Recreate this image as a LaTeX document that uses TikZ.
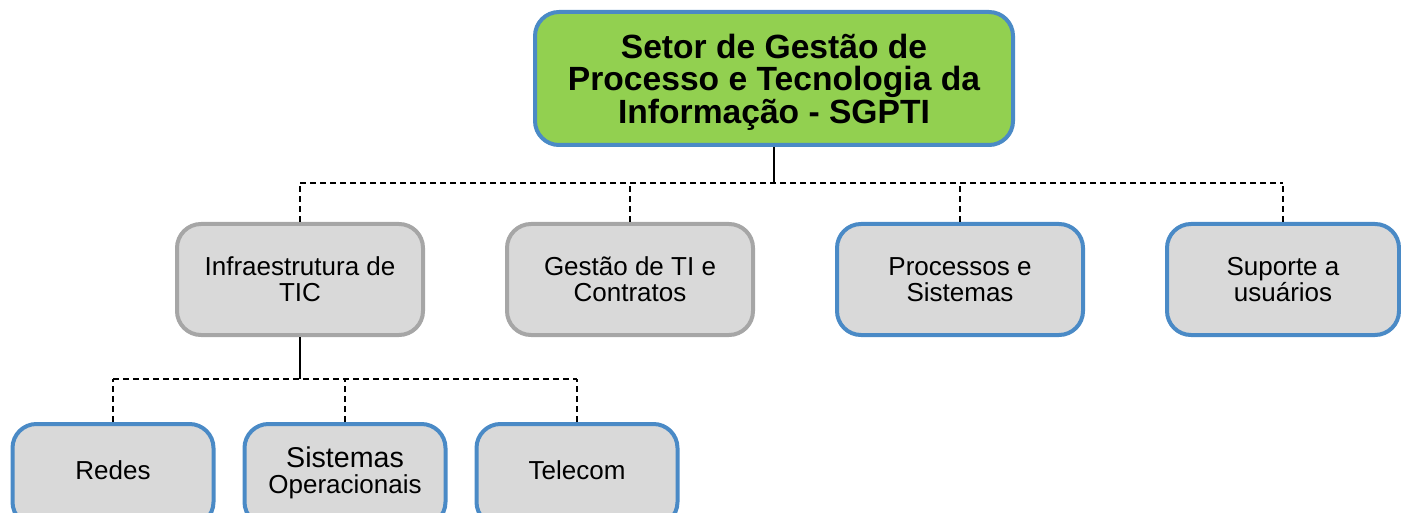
\documentclass[tikz,border=0pt]{standalone}
\usepackage{fontspec}
\setmainfont{Liberation Sans}
\usetikzlibrary{positioning}

\definecolor{edgeblue}{HTML}{4A8AC6}
\definecolor{edgegray}{HTML}{A6A6A6}
\definecolor{fillgray}{HTML}{D9D9D9}
\definecolor{headgreen}{HTML}{92D050}

\begin{document}
\begin{tikzpicture}[
    unitbox/.style={draw, line width=2pt, rounded corners=12pt, fill=fillgray, align=center,
        minimum width=123pt, minimum height=55.5pt, font=\fontsize{13}{12.8}\selectfont},
    graybox/.style={unitbox, draw=edgegray},
    bluebox/.style={unitbox, draw=edgeblue},
    leafbox/.style={bluebox, minimum width=100.5pt, minimum height=51pt, text depth=5pt},
    headbox/.style={unitbox, draw=edgeblue, fill=headgreen, minimum width=239pt, minimum height=66.5pt,
        text depth=0pt, font=\bfseries\fontsize{16.8}{16.3}\selectfont},
    trunk/.style={line width=1pt},
    branch/.style={line width=0.8pt, dash pattern=on 3pt off 2pt},
]

% Page frame (1 px = 0.5 pt)
\useasboundingbox (0,0) rectangle (700.5pt,-256.5pt);

% Head of the sector
\node[headbox] (sgpti) at (387pt,-39.25pt) {
    Setor de Gestão de\\
    Processo e Tecnologia da\\
    Informação - SGPTI
};

% Second level
\node[graybox] (infra) at (150pt,-139.75pt) {Infraestrutura de\\TIC};
\node[graybox, right=40pt of infra] (gestao) {Gestão de TI e\\Contratos};
\node[bluebox, right=40pt of gestao] (processos) {Processos e\\Sistemas};
\node[bluebox, minimum width=116pt, right=40pt of processos] (suporte) {Suporte a\\usuários};

% Third level, under Infraestrutura
\node[leafbox] (redes) at (56.5pt,-237.5pt) {Redes};
\node[leafbox, right=13.5pt of redes] (sisop) {{\fontsize{14.3}{14.3}\selectfont Sistemas}\\Operacionais};
\node[leafbox, right=13.5pt of sisop] (telecom) {Telecom};

% Bus from the head to the second level
\coordinate (busTop) at ([yshift=-18pt]sgpti.south);
\foreach \unit in {infra,gestao,processos,suporte}
    \draw[branch] (\unit.north) -- (\unit.north |- busTop);
\draw[branch] (infra.north |- busTop) -- (suporte.north |- busTop);
\draw[trunk] (sgpti.south) -- (busTop);

% Bus from Infraestrutura to the third level
\coordinate (busLow) at ([yshift=-21pt]infra.south);
\foreach \unit in {redes,sisop,telecom}
    \draw[branch] (\unit.north) -- (\unit.north |- busLow);
\draw[branch] (redes.north |- busLow) -- (telecom.north |- busLow);
\draw[trunk] (infra.south) -- (busLow);

\end{tikzpicture}
\end{document}
